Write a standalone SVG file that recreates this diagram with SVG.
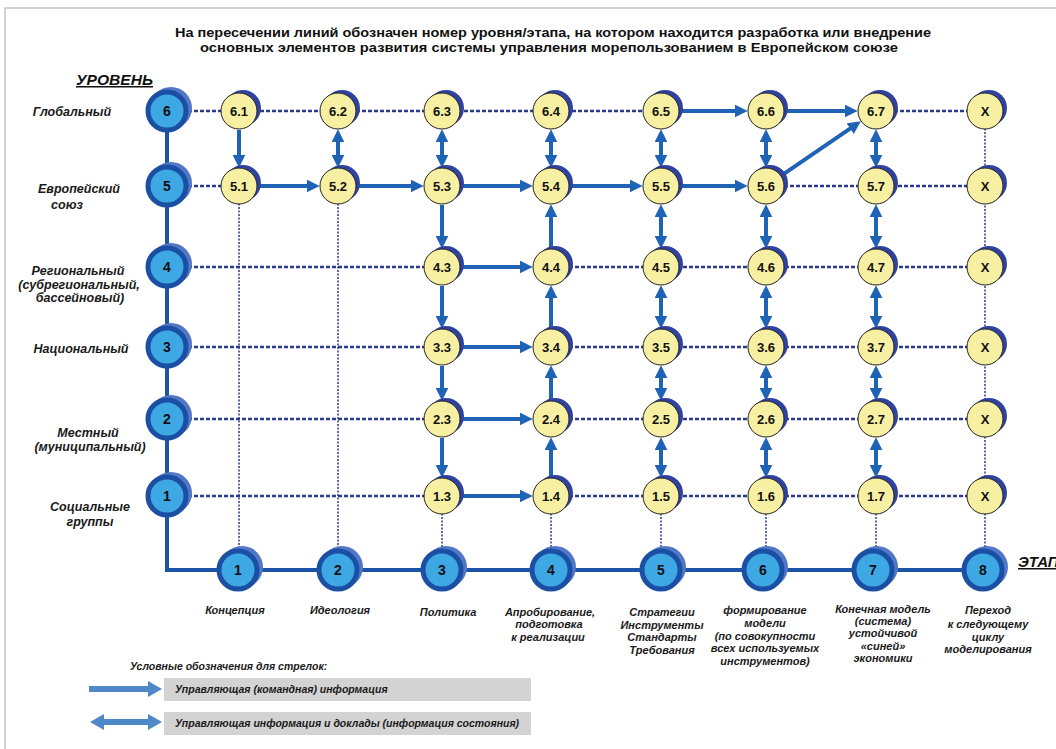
<svg xmlns="http://www.w3.org/2000/svg" width="1056" height="749" viewBox="0 0 1056 749">
<defs>
<style>
.title{font-family:"Liberation Sans",Arial,sans-serif;font-weight:bold;font-size:13px;fill:#111}
.lvl{font-family:"Liberation Sans",Arial,sans-serif;font-weight:bold;font-style:italic;font-size:12.5px;fill:#1a1a1a;text-anchor:middle}
.stg{font-family:"Liberation Sans",Arial,sans-serif;font-weight:bold;font-style:italic;font-size:11px;fill:#1a1a1a;text-anchor:middle}
.leg{font-family:"Liberation Sans",Arial,sans-serif;font-weight:bold;font-style:italic;font-size:10.5px;fill:#1a1a1a}
.head{font-family:"Liberation Sans",Arial,sans-serif;font-weight:bold;font-style:italic;font-size:15px;fill:#111;text-decoration:underline}
.ynum{font-family:"Liberation Sans",Arial,sans-serif;font-weight:bold;font-size:13px;fill:#111;text-anchor:middle}
.bnum{font-family:"Liberation Sans",Arial,sans-serif;font-weight:bold;font-size:14px;fill:#111;text-anchor:middle}
.ysh{fill:#2f42a0}
.yc{fill:#f7f0a2;stroke:#222;stroke-width:1}
.bsh{fill:#5277c6}
.bc{fill:#3ea8e4;stroke:#1b4fa3;stroke-width:5}
.dot{stroke:#2b3a8e;stroke-width:2.5;stroke-dasharray:4 2;fill:none}
.vdot{stroke:#2b3a8e;stroke-width:1.5;stroke-dasharray:2 1.5;fill:none}
.arr{stroke:#1f63b6;stroke-width:4;fill:none;marker-end:url(#ah)}
.dbl{stroke:#1f63b6;stroke-width:4;fill:none;marker-end:url(#ah);marker-start:url(#ah)}
</style>
<marker id="ah" markerUnits="userSpaceOnUse" markerWidth="13" markerHeight="13" viewBox="0 0 12 12" refX="4" refY="6" orient="auto-start-reverse">
<path d="M0,0 L12,6 L0,12 z" fill="#1f63b6"/>
</marker>
</defs>
<rect x="5" y="8" width="1100" height="900" fill="#ffffff" stroke="#c4c4c4" stroke-width="1.5"/>

<text class="title" x="553" y="36.5" text-anchor="middle" textLength="756" lengthAdjust="spacingAndGlyphs">На пересечении линий обозначен номер уровня/этапа, на котором находится   разработка или  внедрение</text>
<text class="title" x="549" y="51.5" text-anchor="middle" textLength="698" lengthAdjust="spacingAndGlyphs">основных элементов развития системы управления морепользованием в Европейском союзе</text>

<text class="head" x="76" y="85" textLength="77" lengthAdjust="spacingAndGlyphs">УРОВЕНЬ</text>
<text class="head" x="1018" y="567" font-style="normal">ЭТАП</text>

<g id="connectors">
<path class="dot" d="M188,111 H661 M876,111 H985"/>
<path class="dot" d="M188,186 H239 M766,186 H985"/>
<path class="dot" d="M188,267 H442 M551,267 H985"/>
<path class="dot" d="M188,347 H442 M551,347 H985"/>
<path class="dot" d="M188,419 H442 M551,419 H985"/>
<path class="dot" d="M188,496 H442 M551,496 H985"/>
<path class="vdot" d="M239,186 V570 M338,186 V570 M442,496 V570 M551,496 V570 M661,496 V570 M766,496 V570 M876,496 V570 M985,111 V570"/>
<path d="M167,111 V570 H985" stroke="#1b54a6" stroke-width="4" fill="none"/>

<path class="arr" d="M239,130 V159"/>
<path class="dbl" d="M338,138 V159"/>
<path class="dbl" d="M442,138 V159"/>
<path class="arr" d="M442,205 V240"/>
<path class="arr" d="M442,286 V320"/>
<path class="arr" d="M442,366 V392"/>
<path class="arr" d="M442,438 V469"/>
<path class="dbl" d="M551,138 V159"/>
<path class="arr" d="M551,248 V213"/>
<path class="arr" d="M551,328 V294"/>
<path class="arr" d="M551,400 V374"/>
<path class="arr" d="M551,477 V446"/>
<path class="dbl" d="M661,138 V159"/>
<path class="dbl" d="M661,213 V240"/>
<path class="dbl" d="M661,294 V320"/>
<path class="dbl" d="M661,374 V392"/>
<path class="dbl" d="M661,446 V469"/>
<path class="dbl" d="M766,138 V159"/>
<path class="dbl" d="M766,213 V240"/>
<path class="dbl" d="M766,294 V320"/>
<path class="dbl" d="M766,374 V392"/>
<path class="dbl" d="M766,446 V469"/>
<path class="dbl" d="M876,138 V159"/>
<path class="dbl" d="M876,213 V240"/>
<path class="dbl" d="M876,294 V320"/>
<path class="dbl" d="M876,374 V392"/>
<path class="dbl" d="M876,446 V469"/>

<path class="arr" d="M680,111 H739"/>
<path class="arr" d="M785,111 H849"/>
<path class="arr" d="M258,186 H311"/>
<path class="arr" d="M357,186 H415"/>
<path class="arr" d="M461,186 H524"/>
<path class="arr" d="M570,186 H634"/>
<path class="arr" d="M680,186 H739"/>
<path class="arr" d="M461,267 H524"/>
<path class="arr" d="M461,347 H524"/>
<path class="arr" d="M461,419 H524"/>
<path class="arr" d="M461,496 H524"/>
<path class="arr" d="M781.7,175.3 L853.7,126.2"/>
</g>

<g id="level-6"><circle class="bsh" cx="171" cy="108" r="21"/><circle class="bc" cx="167" cy="111" r="19"/><text class="bnum" x="167" y="116">6</text></g>
<g id="level-5"><circle class="bsh" cx="171" cy="183" r="21"/><circle class="bc" cx="167" cy="186" r="19"/><text class="bnum" x="167" y="191">5</text></g>
<g id="level-4"><circle class="bsh" cx="171" cy="264" r="21"/><circle class="bc" cx="167" cy="267" r="19"/><text class="bnum" x="167" y="272">4</text></g>
<g id="level-3"><circle class="bsh" cx="171" cy="344" r="21"/><circle class="bc" cx="167" cy="347" r="19"/><text class="bnum" x="167" y="352">3</text></g>
<g id="level-2"><circle class="bsh" cx="171" cy="416" r="21"/><circle class="bc" cx="167" cy="419" r="19"/><text class="bnum" x="167" y="424">2</text></g>
<g id="level-1"><circle class="bsh" cx="171" cy="493" r="21"/><circle class="bc" cx="167" cy="496" r="19"/><text class="bnum" x="167" y="501">1</text></g>

<g id="stage-1"><circle class="bsh" cx="242" cy="567" r="21"/><circle class="bc" cx="238" cy="570" r="19"/><text class="bnum" x="238" y="575">1</text></g>
<g id="stage-2"><circle class="bsh" cx="342" cy="567" r="21"/><circle class="bc" cx="338" cy="570" r="19"/><text class="bnum" x="338" y="575">2</text></g>
<g id="stage-3"><circle class="bsh" cx="446" cy="567" r="21"/><circle class="bc" cx="442" cy="570" r="19"/><text class="bnum" x="442" y="575">3</text></g>
<g id="stage-4"><circle class="bsh" cx="555" cy="567" r="21"/><circle class="bc" cx="551" cy="570" r="19"/><text class="bnum" x="551" y="575">4</text></g>
<g id="stage-5"><circle class="bsh" cx="665" cy="567" r="21"/><circle class="bc" cx="661" cy="570" r="19"/><text class="bnum" x="661" y="575">5</text></g>
<g id="stage-6"><circle class="bsh" cx="767" cy="567" r="21"/><circle class="bc" cx="763" cy="570" r="19"/><text class="bnum" x="763" y="575">6</text></g>
<g id="stage-7"><circle class="bsh" cx="877" cy="567" r="21"/><circle class="bc" cx="873" cy="570" r="19"/><text class="bnum" x="873" y="575">7</text></g>
<g id="stage-8"><circle class="bsh" cx="987" cy="567" r="21"/><circle class="bc" cx="983" cy="570" r="19"/><text class="bnum" x="983" y="575">8</text></g>

<g id="n6-1"><circle class="ysh" cx="243" cy="108" r="18"/><circle class="yc" cx="239" cy="111" r="18"/><text class="ynum" x="239" y="115.5">6.1</text></g>
<g id="n6-2"><circle class="ysh" cx="342" cy="108" r="18"/><circle class="yc" cx="338" cy="111" r="18"/><text class="ynum" x="338" y="115.5">6.2</text></g>
<g id="n6-3"><circle class="ysh" cx="446" cy="108" r="18"/><circle class="yc" cx="442" cy="111" r="18"/><text class="ynum" x="442" y="115.5">6.3</text></g>
<g id="n6-4"><circle class="ysh" cx="555" cy="108" r="18"/><circle class="yc" cx="551" cy="111" r="18"/><text class="ynum" x="551" y="115.5">6.4</text></g>
<g id="n6-5"><circle class="ysh" cx="665" cy="108" r="18"/><circle class="yc" cx="661" cy="111" r="18"/><text class="ynum" x="661" y="115.5">6.5</text></g>
<g id="n6-6"><circle class="ysh" cx="770" cy="108" r="18"/><circle class="yc" cx="766" cy="111" r="18"/><text class="ynum" x="766" y="115.5">6.6</text></g>
<g id="n6-7"><circle class="ysh" cx="880" cy="108" r="18"/><circle class="yc" cx="876" cy="111" r="18"/><text class="ynum" x="876" y="115.5">6.7</text></g>
<g id="n6-x"><circle class="ysh" cx="989" cy="108" r="18"/><circle class="yc" cx="985" cy="111" r="18"/><text class="ynum" x="985" y="115.5">X</text></g>

<g id="n5-1"><circle class="ysh" cx="243" cy="183" r="18"/><circle class="yc" cx="239" cy="186" r="18"/><text class="ynum" x="239" y="190.5">5.1</text></g>
<g id="n5-2"><circle class="ysh" cx="342" cy="183" r="18"/><circle class="yc" cx="338" cy="186" r="18"/><text class="ynum" x="338" y="190.5">5.2</text></g>
<g id="n5-3"><circle class="ysh" cx="446" cy="183" r="18"/><circle class="yc" cx="442" cy="186" r="18"/><text class="ynum" x="442" y="190.5">5.3</text></g>
<g id="n5-4"><circle class="ysh" cx="555" cy="183" r="18"/><circle class="yc" cx="551" cy="186" r="18"/><text class="ynum" x="551" y="190.5">5.4</text></g>
<g id="n5-5"><circle class="ysh" cx="665" cy="183" r="18"/><circle class="yc" cx="661" cy="186" r="18"/><text class="ynum" x="661" y="190.5">5.5</text></g>
<g id="n5-6"><circle class="ysh" cx="770" cy="183" r="18"/><circle class="yc" cx="766" cy="186" r="18"/><text class="ynum" x="766" y="190.5">5.6</text></g>
<g id="n5-7"><circle class="ysh" cx="880" cy="183" r="18"/><circle class="yc" cx="876" cy="186" r="18"/><text class="ynum" x="876" y="190.5">5.7</text></g>
<g id="n5-x"><circle class="ysh" cx="989" cy="183" r="18"/><circle class="yc" cx="985" cy="186" r="18"/><text class="ynum" x="985" y="190.5">X</text></g>

<g id="n4-3"><circle class="ysh" cx="446" cy="264" r="18"/><circle class="yc" cx="442" cy="267" r="18"/><text class="ynum" x="442" y="271.5">4.3</text></g>
<g id="n4-4"><circle class="ysh" cx="555" cy="264" r="18"/><circle class="yc" cx="551" cy="267" r="18"/><text class="ynum" x="551" y="271.5">4.4</text></g>
<g id="n4-5"><circle class="ysh" cx="665" cy="264" r="18"/><circle class="yc" cx="661" cy="267" r="18"/><text class="ynum" x="661" y="271.5">4.5</text></g>
<g id="n4-6"><circle class="ysh" cx="770" cy="264" r="18"/><circle class="yc" cx="766" cy="267" r="18"/><text class="ynum" x="766" y="271.5">4.6</text></g>
<g id="n4-7"><circle class="ysh" cx="880" cy="264" r="18"/><circle class="yc" cx="876" cy="267" r="18"/><text class="ynum" x="876" y="271.5">4.7</text></g>
<g id="n4-x"><circle class="ysh" cx="989" cy="264" r="18"/><circle class="yc" cx="985" cy="267" r="18"/><text class="ynum" x="985" y="271.5">X</text></g>

<g id="n3-3"><circle class="ysh" cx="446" cy="344" r="18"/><circle class="yc" cx="442" cy="347" r="18"/><text class="ynum" x="442" y="351.5">3.3</text></g>
<g id="n3-4"><circle class="ysh" cx="555" cy="344" r="18"/><circle class="yc" cx="551" cy="347" r="18"/><text class="ynum" x="551" y="351.5">3.4</text></g>
<g id="n3-5"><circle class="ysh" cx="665" cy="344" r="18"/><circle class="yc" cx="661" cy="347" r="18"/><text class="ynum" x="661" y="351.5">3.5</text></g>
<g id="n3-6"><circle class="ysh" cx="770" cy="344" r="18"/><circle class="yc" cx="766" cy="347" r="18"/><text class="ynum" x="766" y="351.5">3.6</text></g>
<g id="n3-7"><circle class="ysh" cx="880" cy="344" r="18"/><circle class="yc" cx="876" cy="347" r="18"/><text class="ynum" x="876" y="351.5">3.7</text></g>
<g id="n3-x"><circle class="ysh" cx="989" cy="344" r="18"/><circle class="yc" cx="985" cy="347" r="18"/><text class="ynum" x="985" y="351.5">X</text></g>

<g id="n2-3"><circle class="ysh" cx="446" cy="416" r="18"/><circle class="yc" cx="442" cy="419" r="18"/><text class="ynum" x="442" y="423.5">2.3</text></g>
<g id="n2-4"><circle class="ysh" cx="555" cy="416" r="18"/><circle class="yc" cx="551" cy="419" r="18"/><text class="ynum" x="551" y="423.5">2.4</text></g>
<g id="n2-5"><circle class="ysh" cx="665" cy="416" r="18"/><circle class="yc" cx="661" cy="419" r="18"/><text class="ynum" x="661" y="423.5">2.5</text></g>
<g id="n2-6"><circle class="ysh" cx="770" cy="416" r="18"/><circle class="yc" cx="766" cy="419" r="18"/><text class="ynum" x="766" y="423.5">2.6</text></g>
<g id="n2-7"><circle class="ysh" cx="880" cy="416" r="18"/><circle class="yc" cx="876" cy="419" r="18"/><text class="ynum" x="876" y="423.5">2.7</text></g>
<g id="n2-x"><circle class="ysh" cx="989" cy="416" r="18"/><circle class="yc" cx="985" cy="419" r="18"/><text class="ynum" x="985" y="423.5">X</text></g>

<g id="n1-3"><circle class="ysh" cx="446" cy="493" r="18"/><circle class="yc" cx="442" cy="496" r="18"/><text class="ynum" x="442" y="500.5">1.3</text></g>
<g id="n1-4"><circle class="ysh" cx="555" cy="493" r="18"/><circle class="yc" cx="551" cy="496" r="18"/><text class="ynum" x="551" y="500.5">1.4</text></g>
<g id="n1-5"><circle class="ysh" cx="665" cy="493" r="18"/><circle class="yc" cx="661" cy="496" r="18"/><text class="ynum" x="661" y="500.5">1.5</text></g>
<g id="n1-6"><circle class="ysh" cx="770" cy="493" r="18"/><circle class="yc" cx="766" cy="496" r="18"/><text class="ynum" x="766" y="500.5">1.6</text></g>
<g id="n1-7"><circle class="ysh" cx="880" cy="493" r="18"/><circle class="yc" cx="876" cy="496" r="18"/><text class="ynum" x="876" y="500.5">1.7</text></g>
<g id="n1-x"><circle class="ysh" cx="989" cy="493" r="18"/><circle class="yc" cx="985" cy="496" r="18"/><text class="ynum" x="985" y="500.5">X</text></g>

<g id="level-labels">
<text class="lvl" x="72" y="116">Глобальный</text>
<text class="lvl" x="79" y="192.5">Европейский</text>
<text class="lvl" x="67" y="208.5">союз</text>
<text class="lvl" x="78" y="275">Региональный</text>
<text class="lvl" x="79" y="288.5">(субрегиональный,</text>
<text class="lvl" x="80" y="302">бассейновый)</text>
<text class="lvl" x="81" y="353">Национальный</text>
<text class="lvl" x="88" y="437">Местный</text>
<text class="lvl" x="90" y="451">(муниципальный)</text>
<text class="lvl" x="90" y="511">Социальные</text>
<text class="lvl" x="90" y="525.5">группы</text>
</g>

<g id="stage-labels">
<text class="stg" x="235" y="614">Концепция</text>
<text class="stg" x="340" y="614">Идеология</text>
<text class="stg" x="448" y="616">Политика</text>
<text class="stg" x="550" y="616">Апробирование,</text>
<text class="stg" x="549" y="628">подготовка</text>
<text class="stg" x="548" y="641">к реализации</text>
<text class="stg" x="662" y="616">Стратегии</text>
<text class="stg" x="662" y="628.5">Инструменты</text>
<text class="stg" x="662" y="641">Стандарты</text>
<text class="stg" x="662" y="654">Требования</text>
<text class="stg" x="765" y="614">формирование</text>
<text class="stg" x="765" y="627">модели</text>
<text class="stg" x="765" y="639.5">(по совокупности</text>
<text class="stg" x="765" y="652">всех  используемых</text>
<text class="stg" x="765" y="664.5">инструментов)</text>
<text class="stg" x="883" y="612.5">Конечная модель</text>
<text class="stg" x="883" y="625">(система)</text>
<text class="stg" x="883" y="637">устойчивой</text>
<text class="stg" x="883" y="650">«синей»</text>
<text class="stg" x="883" y="662">экономики</text>
<text class="stg" x="988" y="614">Переход</text>
<text class="stg" x="988" y="628">к следующему</text>
<text class="stg" x="988" y="640.5">циклу</text>
<text class="stg" x="988" y="653">моделирования</text>
</g>

<g id="legend">
<text class="leg" x="130" y="670">Условные обозначения для стрелок:</text>
<path d="M89,686 H148 V681 L162,689 L148,697 V692 H89 z" fill="#4f88c8"/>
<rect x="164" y="678" width="367" height="23" fill="#d3d3d3"/>
<text class="leg" x="175" y="692.5">Управляющая (командная) информация</text>
<path d="M90,722 L104,714 V719 H148 V714 L162,722 L148,730 V725 H104 V730 z" fill="#4f88c8"/>
<rect x="164" y="712" width="367" height="23" fill="#d3d3d3"/>
<text class="leg" x="175" y="726.5">Управляющая  информация и доклады (информация состояния)</text>
</g>
</svg>
